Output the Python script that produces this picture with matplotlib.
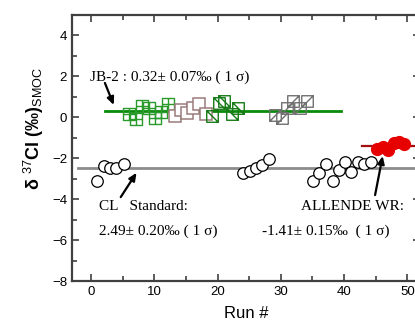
import numpy as np
import matplotlib
matplotlib.use('Agg')
import matplotlib.pyplot as plt
from matplotlib.path import Path
from matplotlib.ticker import MultipleLocator

# CL standard (open circles)
cl_run = [1, 2, 3, 4, 5.2,
          24, 25.1, 26.1, 27, 28.2,
          35.1, 36.1, 37.2, 38.2, 39.2, 40.2, 41.1, 42.2, 43.2, 44.2]
cl_val = [-3.13, -2.40, -2.48, -2.50, -2.26,
          -2.72, -2.61, -2.48, -2.35, -2.04,
          -3.10, -2.72, -2.28, -3.10, -2.56, -2.17, -2.67, -2.17, -2.26, -2.17]
cl_mean = -2.49

# JB-2 (squares, four groups)
jb_grid_run = [6.0, 7.1, 8.1, 9.2, 10.1, 11.0, 12.2]
jb_grid_val = [0.14, -0.07, 0.54, 0.47, -0.02, 0.27, 0.63]
jb_open_run = [13.3, 14.2, 15.1, 16.1, 17.1, 18.1]
jb_open_val = [0.05, 0.38, 0.22, 0.47, 0.63, 0.17]
jb_bs_run = [19.2, 20.2, 21.1, 22.3, 23.2]
jb_bs_val = [0.05, 0.71, 0.79, 0.14, 0.47]
jb_sl_run = [29.1, 30.2, 31.0, 32.0, 33.1, 34.1]
jb_sl_val = [0.09, -0.02, 0.47, 0.79, 0.47, 0.79]
jb_mean = 0.32

# Allende WR (red filled circles)
al_run = [45.2, 46.1, 46.9, 47.9, 48.7, 49.4]
al_val = [-1.55, -1.45, -1.62, -1.28, -1.20, -1.32]
al_mean = -1.41

M, L, C = Path.MOVETO, Path.LINETO, Path.CLOSEPOLY
sq = [(-1, -1), (1, -1), (1, 1), (-1, 1), (-1, -1)]
sq_codes = [M, L, L, L, C]
grid_sq = Path(sq + [(0, -1), (0, 1), (-1, 0), (1, 0)], sq_codes + [M, L, M, L])
bslash_sq = Path(sq + [(-1, 1), (1, -1)], sq_codes + [M, L])
slash_sq = Path(sq + [(-1, -1), (1, 1)], sq_codes + [M, L])

serif = ['Liberation Serif', 'DejaVu Serif']
plt.rcParams['font.family'] = ['Liberation Sans', 'DejaVu Sans']
plt.rcParams['mathtext.fontset'] = 'custom'
plt.rcParams['mathtext.rm'] = 'Liberation Sans'

fig = plt.figure(figsize=(4.15, 3.25), dpi=100)
ax = fig.add_axes([72/415, 44/325, 348/415, 266/325])

ax.plot([-2, 53], [cl_mean, cl_mean], color='#8c8c8c', lw=2, zorder=1)
ax.plot([2.2, 39.5], [jb_mean, jb_mean], color='#0a8a0a', lw=2, zorder=1)
ax.plot([42.8, 53], [al_mean, al_mean], color='#a01010', lw=1.6, zorder=1)

ax.plot(cl_run, cl_val, 'o', ms=8.3, mfc='white', mec='black', mew=0.9, zorder=3)
ax.plot(jb_grid_run, jb_grid_val, ls='none', marker=grid_sq, ms=8.3, mfc='none',
        mec='#2a9a2a', mew=1.0, zorder=3)
ax.plot(jb_open_run, jb_open_val, 's', ms=9, mfc='white', mec='#9a7c7a', mew=1.1, zorder=3)
ax.plot(jb_bs_run, jb_bs_val, ls='none', marker=bslash_sq, ms=8.3, mfc='none',
        mec='#157a15', mew=1.0, zorder=3)
ax.plot(jb_sl_run, jb_sl_val, ls='none', marker=slash_sq, ms=8.3, mfc='none',
        mec='#707070', mew=1.0, zorder=3)
ax.plot(al_run, al_val, 'o', ms=8.5, mfc='#e60000', mec='#e60000', zorder=3)

arrow = dict(arrowstyle='-|>,head_length=0.45,head_width=0.2', color='black', lw=1.6,
             shrinkA=0, shrinkB=0)
ax.annotate('', xy=(3.6, 0.6), xytext=(2.2, 1.68), arrowprops=arrow)
ax.annotate('', xy=(7.2, -2.71), xytext=(4.7, -3.9), arrowprops=arrow)
ax.annotate('', xy=(46.1, -1.89), xytext=(44.9, -3.8), arrowprops=arrow)

ax.text(-0.15, 1.78, 'JB-2 : 0.32\u00b1 0.07\u2030 ( 1 \u03c3)', family=serif, fontsize=11)
ax.text(1.2, -4.53, 'CL   Standard:', family=serif, fontsize=11)
ax.text(1.2, -5.75, '2.49\u00b1 0.20\u2030 ( 1 \u03c3)', family=serif, fontsize=11)
ax.text(33.2, -4.53, 'ALLENDE WR:', family=serif, fontsize=11)
ax.text(27.0, -5.75, '-1.41\u00b1 0.15\u2030  ( 1 \u03c3)', family=serif, fontsize=11)

ax.set_xlim(-3, 52)
ax.set_ylim(-8, 5)
ax.xaxis.set_major_locator(MultipleLocator(10))
ax.xaxis.set_minor_locator(MultipleLocator(5))
ax.yaxis.set_major_locator(MultipleLocator(2))
ax.yaxis.set_minor_locator(MultipleLocator(1))
ax.tick_params(which='both', direction='in', top=True, right=True, color='#404040',
               labelsize=9.5, width=1.2)
ax.tick_params(which='major', length=5)
ax.tick_params(which='minor', length=3.5)
for s in ax.spines.values():
    s.set_color('#404040')
    s.set_linewidth(1.6)

ax.set_xlabel('Run #', fontsize=12)
ax.set_ylabel('\u03b4 $^{\\mathrm{37}}$Cl (\u2030)$_{\\mathrm{SMOC}}$', fontsize=13, fontweight='bold')
ax.yaxis.set_label_coords(-0.075, 0.575)
ax.xaxis.set_label_coords(0.5, -0.095)

fig.savefig('out.png', dpi=100)
